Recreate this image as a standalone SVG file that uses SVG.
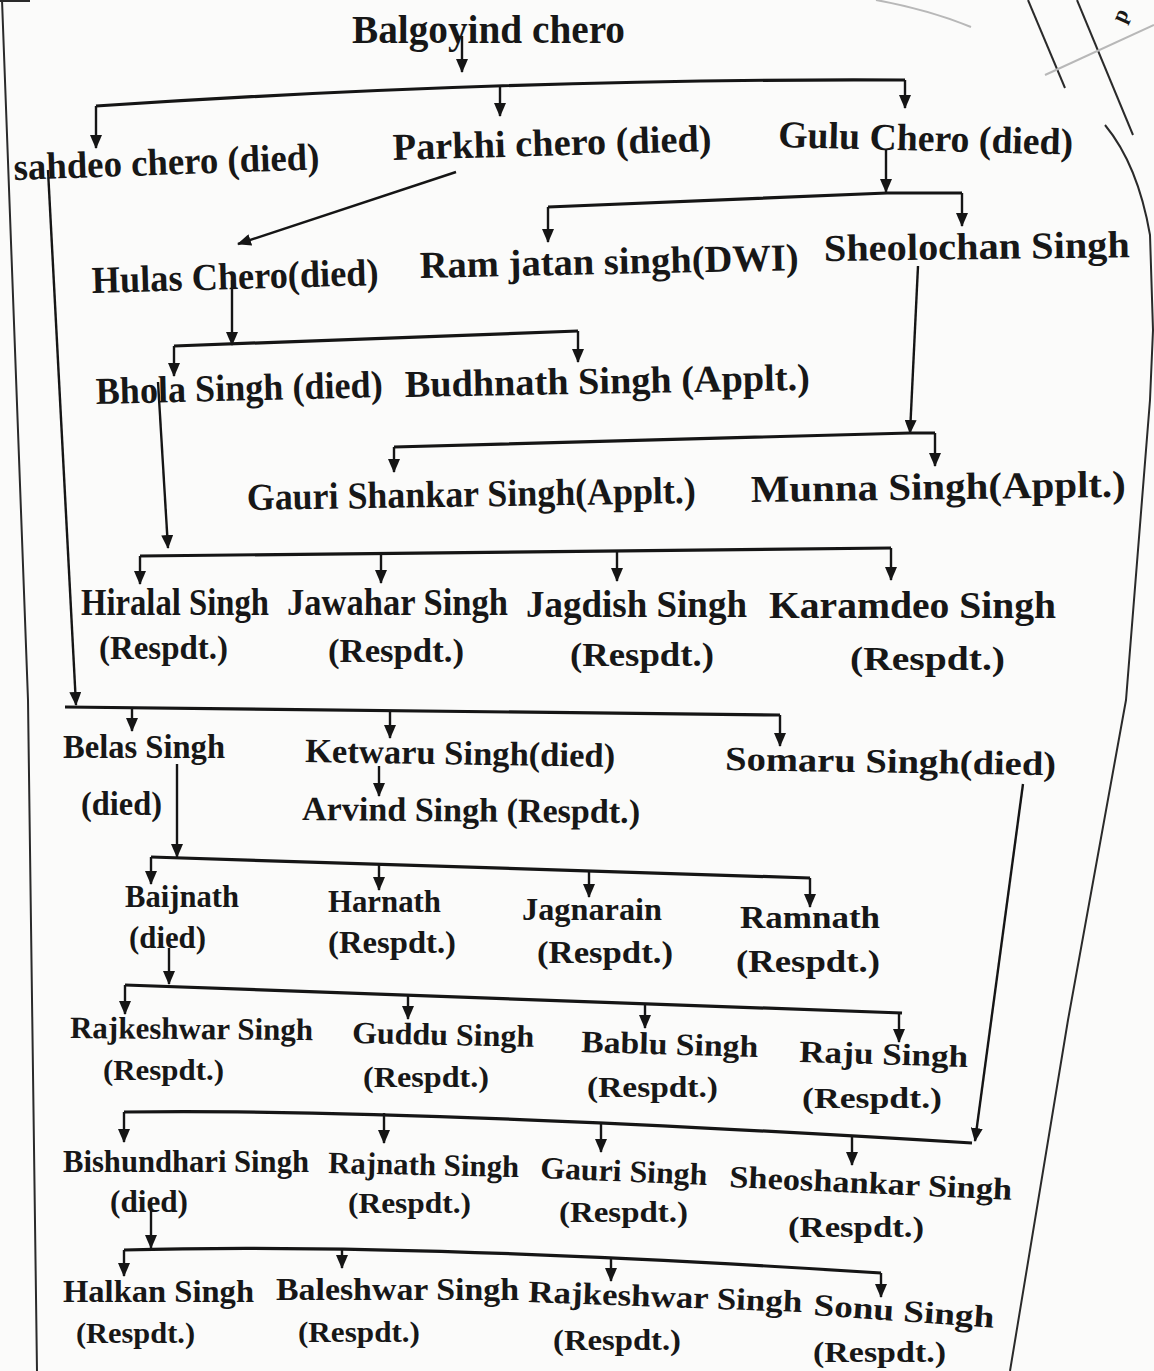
<svg xmlns="http://www.w3.org/2000/svg" width="1154" height="1371" viewBox="0 0 1154 1371">
<defs>
<marker id="ah" viewBox="0 0 14 12" refX="13" refY="6" markerWidth="14" markerHeight="12" markerUnits="userSpaceOnUse" orient="auto">
<path d="M0,0 L14,6 L0,12 Z" fill="#151515"/>
</marker>
<style>
text{font-family:"Liberation Serif","Times New Roman",serif;font-weight:bold;fill:#171717;}
.t1{font-size:38px;}
.t2{font-size:34px;}
.t3{font-size:31px;}
.t4{font-size:30px;}
.ln{fill:none;stroke:#151515;stroke-width:2.4;}
.ar{fill:none;stroke:#151515;stroke-width:2.4;marker-end:url(#ah);}
.bar{fill:none;stroke:#151515;stroke-width:3.2;stroke-linejoin:round;}
.edge{fill:none;stroke:#2a2a2a;stroke-width:2;}
.faint{fill:none;stroke:#b8b8b8;stroke-width:2;}
</style>
</defs>
<rect width="1154" height="1371" fill="#fbfbfa"/>
<g id="page">
<path class="edge" d="M0,1 L30,1"/>
<path class="edge" d="M2,0 L28,700 L37,1371"/>
<path class="edge" d="M1105,125 Q1138,165 1150,235 L1153,330 L1150,400 L1126,700 L1068,1020 L1010,1371"/>
<path class="edge" d="M1028,0 L1065,88"/>
<path class="edge" d="M1077,0 L1133,135"/>
<path class="faint" d="M1045,75 L1154,25"/>
<path class="faint" d="M876,0 Q930,10 971,27"/>
<text x="1124" y="24" transform="rotate(-65 1124 24)" style="font-size:22px">p</text>
</g>
<g id="connectors">
<path class="ar" d="M462,36 L462,72"/>
<path class="bar" d="M96,106 Q520,78 905,80"/>
<path class="ar" d="M96,106 L96,148"/>
<path class="ar" d="M500,87 L500,116"/>
<path class="ar" d="M905,80 L905,108"/>
<path class="ar" d="M456,172 L238,244"/>
<path class="ar" d="M48,170 L76,705"/>
<path class="ar" d="M886,150 L886,192"/>
<path class="bar" d="M548,207 L887,193 L962,193"/>
<path class="ar" d="M548,207 L548,242"/>
<path class="ar" d="M962,193 L962,226"/>
<path class="ar" d="M232,280 L232,345"/>
<path class="bar" d="M174,346 L578,331"/>
<path class="ar" d="M174,346 L174,376"/>
<path class="ar" d="M578,331 L578,362"/>
<path class="ar" d="M918,266 L910,433"/>
<path class="bar" d="M394,447 L910,433 L935,433"/>
<path class="ar" d="M394,447 L394,472"/>
<path class="ar" d="M935,433 L935,466"/>
<path class="ar" d="M158,382 L168,548"/>
<path class="bar" d="M140,556 L891,548"/>
<path class="ar" d="M140,556 L140,584"/>
<path class="ar" d="M381,553 L381,583"/>
<path class="ar" d="M617,551 L617,581"/>
<path class="ar" d="M891,548 L891,580"/>
<path class="bar" d="M65,707 L780,715"/>
<path class="ar" d="M132,708 L132,731"/>
<path class="ar" d="M390,711 L390,738"/>
<path class="ar" d="M780,715 L780,746"/>
<path class="ar" d="M379,766 L379,796"/>
<path class="ar" d="M1023,784 L975,1141"/>
<path class="ar" d="M177,764 L177,857"/>
<path class="bar" d="M151,857 L810,878"/>
<path class="ar" d="M151,857 L151,884"/>
<path class="ar" d="M379,864 L379,890"/>
<path class="ar" d="M589,871 L589,897"/>
<path class="ar" d="M810,878 L810,907"/>
<path class="ar" d="M169,948 L169,984"/>
<path class="bar" d="M125,985 L902,1013"/>
<path class="ar" d="M125,985 L125,1014"/>
<path class="ar" d="M408,995 L408,1019"/>
<path class="ar" d="M645,1004 L645,1028"/>
<path class="ar" d="M899,1013 L899,1042"/>
<path class="bar" d="M124,1112 Q400,1108 972,1143"/>
<path class="ar" d="M124,1112 L124,1142"/>
<path class="ar" d="M384,1113 L384,1143"/>
<path class="ar" d="M601,1123 L601,1152"/>
<path class="ar" d="M852,1136 L852,1165"/>
<path class="ar" d="M151,1204 L151,1248"/>
<path class="bar" d="M124,1250 Q400,1242 881,1273"/>
<path class="ar" d="M124,1250 L124,1276"/>
<path class="ar" d="M342,1249 L342,1268"/>
<path class="ar" d="M611,1258 L611,1281"/>
<path class="ar" d="M881,1273 L881,1297"/>
</g>
<g id="n-balgoyind"><text class="t1" x="352" y="43" textLength="273" lengthAdjust="spacingAndGlyphs" style="font-size:40px">Balgoyind chero</text></g>
<g id="n-sahdeo"><text class="t1" x="14" y="180" textLength="306" lengthAdjust="spacingAndGlyphs" transform="rotate(-2 14 180)">sahdeo chero (died)</text></g>
<g id="n-parkhi"><text class="t1" x="393" y="160" textLength="319" lengthAdjust="spacingAndGlyphs" transform="rotate(-1.6 393 160)">Parkhi chero (died)</text></g>
<g id="n-gulu"><text class="t1" x="778" y="147" textLength="295" lengthAdjust="spacingAndGlyphs" transform="rotate(1.5 778 147)">Gulu Chero (died)</text></g>
<g id="n-hulas"><text class="t1" x="92" y="293" textLength="287" lengthAdjust="spacingAndGlyphs" transform="rotate(-1.6 92 293)">Hulas Chero(died)</text></g>
<g id="n-ramjatan"><text class="t1" x="420" y="278" textLength="379" lengthAdjust="spacingAndGlyphs" transform="rotate(-1.2 420 278)">Ram jatan singh(DWI)</text></g>
<g id="n-sheolochan"><text class="t1" x="824" y="261" textLength="306" lengthAdjust="spacingAndGlyphs" transform="rotate(-0.7 824 261)">Sheolochan Singh</text></g>
<g id="n-bhola"><text class="t1" x="96" y="404" textLength="287" lengthAdjust="spacingAndGlyphs" transform="rotate(-1.4 96 404)">Bhola Singh (died)</text></g>
<g id="n-budhnath"><text class="t1" x="405" y="397" textLength="405" lengthAdjust="spacingAndGlyphs" transform="rotate(-1 405 397)">Budhnath Singh (Applt.)</text></g>
<g id="n-gaurishankar"><text class="t1" x="247" y="510" textLength="449" lengthAdjust="spacingAndGlyphs" transform="rotate(-0.9 247 510)">Gauri Shankar Singh(Applt.)</text></g>
<g id="n-munna"><text class="t1" x="751" y="502" textLength="375" lengthAdjust="spacingAndGlyphs" transform="rotate(-0.8 751 502)">Munna Singh(Applt.)</text></g>
<g id="n-hiralal"><text class="t1" x="81" y="615" textLength="188" lengthAdjust="spacingAndGlyphs">Hiralal Singh</text><text class="t2" x="99" y="659" textLength="129" lengthAdjust="spacingAndGlyphs">(Respdt.)</text></g>
<g id="n-jawahar"><text class="t1" x="287" y="615" textLength="221" lengthAdjust="spacingAndGlyphs">Jawahar Singh</text><text class="t2" x="328" y="662" textLength="136" lengthAdjust="spacingAndGlyphs">(Respdt.)</text></g>
<g id="n-jagdish"><text class="t1" x="526" y="617" textLength="221" lengthAdjust="spacingAndGlyphs">Jagdish Singh</text><text class="t2" x="570" y="666" textLength="144" lengthAdjust="spacingAndGlyphs">(Respdt.)</text></g>
<g id="n-karamdeo"><text class="t1" x="769" y="618" textLength="287" lengthAdjust="spacingAndGlyphs">Karamdeo Singh</text><text class="t2" x="850" y="670" textLength="155" lengthAdjust="spacingAndGlyphs">(Respdt.)</text></g>
<g id="n-belas"><text class="t2" x="63" y="758" textLength="162" lengthAdjust="spacingAndGlyphs">Belas Singh</text><text class="t2" x="81" y="815" textLength="81" lengthAdjust="spacingAndGlyphs">(died)</text></g>
<g id="n-ketwaru"><text class="t2" x="305" y="762" textLength="310" lengthAdjust="spacingAndGlyphs" transform="rotate(0.9 305 762)">Ketwaru Singh(died)</text></g>
<g id="n-arvind"><text class="t2" x="302" y="820" textLength="338" lengthAdjust="spacingAndGlyphs" transform="rotate(0.5 302 820)">Arvind Singh (Respdt.)</text></g>
<g id="n-somaru"><text class="t2" x="725" y="770" textLength="331" lengthAdjust="spacingAndGlyphs" transform="rotate(0.9 725 770)">Somaru Singh(died)</text></g>
<g id="n-baijnath"><text class="t3" x="125" y="907" textLength="114" lengthAdjust="spacingAndGlyphs">Baijnath</text><text class="t3" x="129" y="948" textLength="77" lengthAdjust="spacingAndGlyphs">(died)</text></g>
<g id="n-harnath"><text class="t3" x="328" y="912" textLength="113" lengthAdjust="spacingAndGlyphs">Harnath</text><text class="t3" x="328" y="953" textLength="128" lengthAdjust="spacingAndGlyphs">(Respdt.)</text></g>
<g id="n-jagnarain"><text class="t3" x="522" y="920" textLength="140" lengthAdjust="spacingAndGlyphs">Jagnarain</text><text class="t3" x="537" y="963" textLength="136" lengthAdjust="spacingAndGlyphs">(Respdt.)</text></g>
<g id="n-ramnath"><text class="t3" x="740" y="928" textLength="140" lengthAdjust="spacingAndGlyphs">Ramnath</text><text class="t3" x="736" y="972" textLength="144" lengthAdjust="spacingAndGlyphs">(Respdt.)</text></g>
<g id="n-rajkeshwar1"><text class="t3" x="70" y="1038" textLength="243" lengthAdjust="spacingAndGlyphs" transform="rotate(0.5 70 1038)">Rajkeshwar Singh</text><text class="t4" x="103" y="1080" textLength="121" lengthAdjust="spacingAndGlyphs">(Respdt.)</text></g>
<g id="n-guddu"><text class="t3" x="352" y="1043" textLength="182" lengthAdjust="spacingAndGlyphs" transform="rotate(1.2 352 1043)">Guddu Singh</text><text class="t4" x="363" y="1087" textLength="126" lengthAdjust="spacingAndGlyphs">(Respdt.)</text></g>
<g id="n-bablu"><text class="t3" x="581" y="1052" textLength="177" lengthAdjust="spacingAndGlyphs" transform="rotate(1.6 581 1052)">Bablu Singh</text><text class="t4" x="587" y="1097" textLength="131" lengthAdjust="spacingAndGlyphs">(Respdt.)</text></g>
<g id="n-raju"><text class="t3" x="799" y="1062" textLength="169" lengthAdjust="spacingAndGlyphs" transform="rotate(1.7 799 1062)">Raju Singh</text><text class="t4" x="802" y="1108" textLength="140" lengthAdjust="spacingAndGlyphs">(Respdt.)</text></g>
<g id="n-bishundhari"><text class="t3" x="63" y="1172" textLength="246" lengthAdjust="spacingAndGlyphs">Bishundhari Singh</text><text class="t3" x="110" y="1212" textLength="78" lengthAdjust="spacingAndGlyphs">(died)</text></g>
<g id="n-rajnath"><text class="t3" x="328" y="1173" textLength="191" lengthAdjust="spacingAndGlyphs" transform="rotate(1.2 328 1173)">Rajnath Singh</text><text class="t4" x="348" y="1213" textLength="123" lengthAdjust="spacingAndGlyphs">(Respdt.)</text></g>
<g id="n-gauri"><text class="t3" x="540" y="1178" textLength="167" lengthAdjust="spacingAndGlyphs" transform="rotate(2.4 540 1178)">Gauri Singh</text><text class="t4" x="559" y="1222" textLength="129" lengthAdjust="spacingAndGlyphs">(Respdt.)</text></g>
<g id="n-sheoshankar"><text class="t3" x="729" y="1187" textLength="283" lengthAdjust="spacingAndGlyphs" transform="rotate(2.6 729 1187)">Sheoshankar Singh</text><text class="t4" x="788" y="1237" textLength="136" lengthAdjust="spacingAndGlyphs">(Respdt.)</text></g>
<g id="n-halkan"><text class="t3" x="63" y="1302" textLength="191" lengthAdjust="spacingAndGlyphs">Halkan Singh</text><text class="t4" x="76" y="1343" textLength="119" lengthAdjust="spacingAndGlyphs">(Respdt.)</text></g>
<g id="n-baleshwar"><text class="t3" x="276" y="1300" textLength="243" lengthAdjust="spacingAndGlyphs">Baleshwar Singh</text><text class="t4" x="298" y="1342" textLength="122" lengthAdjust="spacingAndGlyphs">(Respdt.)</text></g>
<g id="n-rajkeshwar2"><text class="t3" x="528" y="1302" textLength="274" lengthAdjust="spacingAndGlyphs" transform="rotate(2.1 528 1302)">Rajkeshwar Singh</text><text class="t4" x="553" y="1350" textLength="128" lengthAdjust="spacingAndGlyphs">(Respdt.)</text></g>
<g id="n-sonu"><text class="t3" x="813" y="1315" textLength="181" lengthAdjust="spacingAndGlyphs" transform="rotate(4 813 1315)">Sonu Singh</text><text class="t4" x="813" y="1362" textLength="133" lengthAdjust="spacingAndGlyphs">(Respdt.)</text></g>
</svg>
